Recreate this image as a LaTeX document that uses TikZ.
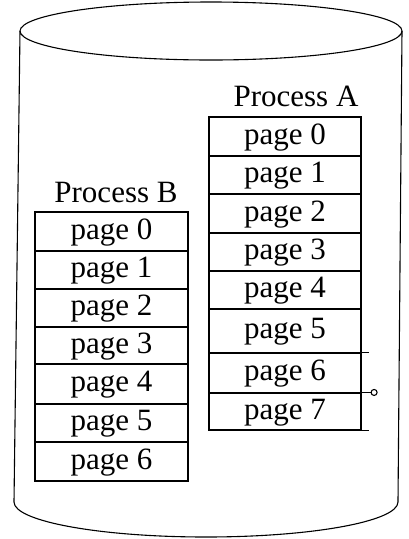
\documentclass[tikz,border=0pt]{standalone}
\usepackage{fontspec}
\setmainfont{Liberation Serif}
\begin{document}
\begin{tikzpicture}[x=1pt,y=-1pt,
  line width=1.1pt,
  pg/.style={draw, rectangle, inner sep=0pt, font=\fontsize{31}{36}\selectfont, text height=22pt, text depth=7pt},
  lbl/.style={inner sep=0pt, font=\fontsize{31}{36}\selectfont}]
\useasboundingbox (0,0) rectangle (409,539);
% cylinder
\draw (211,31) ellipse [x radius=191, y radius=29];
\draw (20,31) -- (14,502) arc[start angle=180, end angle=360, x radius=192, y radius=-35] -- (402,31);
% Process A
\node[lbl] (la) at (296,96) {Process A};
\node[pg, minimum width=152pt, minimum height=39pt] (a0) at (285,136.5) {page 0};
\node[pg, minimum width=152pt, minimum height=38pt] (a1) at (285,175) {page 1};
\node[pg, minimum width=152pt, minimum height=39pt] (a2) at (285,213.5) {page 2};
\node[pg, minimum width=152pt, minimum height=38pt] (a3) at (285,252) {page 3};
\node[pg, minimum width=152pt, minimum height=38pt] (a4) at (285,290) {page 4};
\node[pg, minimum width=152pt, minimum height=44pt] (a5) at (285,331) {page 5};
\node[pg, minimum width=152pt, minimum height=40pt] (a6) at (285,373) {page 6};
\node[pg, minimum width=152pt, minimum height=37pt] (a7) at (285,411.5) {page 7};
\draw (a6.north east) -- ++(7,0) coordinate (e6);
\draw (a7.north east) -- ++(9,0) coordinate (e7);
\draw (a7.south east) -- ++(7,0) coordinate (e8);
\node[circle, draw, line width=1.1pt, inner sep=0pt, minimum size=6pt, anchor=west] (dot) at (e7) {};
% Process B
\node[lbl] (lb) at (116,192) {Process B};
\node[pg, minimum width=153pt, minimum height=39pt] (b0) at (111.5,231.5) {page 0};
\node[pg, minimum width=153pt, minimum height=38pt] (b1) at (111.5,270) {page 1};
\node[pg, minimum width=153pt, minimum height=38pt] (b2) at (111.5,308) {page 2};
\node[pg, minimum width=153pt, minimum height=37pt] (b3) at (111.5,345.5) {page 3};
\node[pg, minimum width=153pt, minimum height=40pt] (b4) at (111.5,384) {page 4};
\node[pg, minimum width=153pt, minimum height=38pt] (b5) at (111.5,423) {page 5};
\node[pg, minimum width=153pt, minimum height=39pt] (b6) at (111.5,461.5) {page 6};
\end{tikzpicture}
\end{document}
